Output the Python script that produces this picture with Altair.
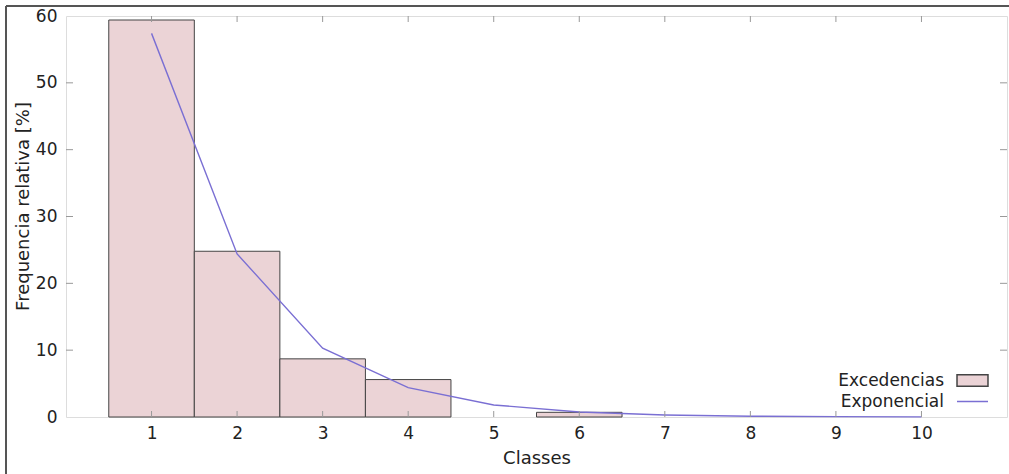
import altair as alt
import pandas as pd

classes = [1, 2, 3, 4, 5, 6, 7, 8, 9, 10]
excedencias = [59.4, 24.8, 8.7, 5.6, 0.0, 0.7, 0.0, 0.0, 0.0, 0.0]
exponencial = [57.4, 24.4, 10.3, 4.4, 1.8, 0.75, 0.3, 0.12, 0.05, 0.02]
y_ticks = [0, 10, 20, 30, 40, 50, 60]
series_names = ["Excedencias", "Exponencial"]
fill_colors = ["#ebd3d6", "transparent"]
stroke_colors = ["#444444", "#7a6fd3"]

W, H = 941, 401
FONT = "DejaVu Sans"

bars_df = pd.DataFrame({"cls": classes, "val": excedencias, "series": series_names[0]})
line_df = pd.DataFrame({"cls": classes, "val": exponencial, "series": series_names[1]})
ytick_df = pd.DataFrame({"v": y_ticks[1:-1]})

xscale = alt.Scale(domain=[0, 11], nice=False, zero=False)
yscale = alt.Scale(domain=[0, 60], nice=False)
fill_scale = alt.Scale(domain=series_names, range=fill_colors)
stroke_scale = alt.Scale(domain=series_names, range=stroke_colors)

legend = alt.Legend(
    title=None,
    orient="none",
    legendX=898,
    legendY=356,
    padding=0,
    labelFont=FONT,
    labelFontSize=17,
    labelColor="#222",
    labelAlign="right",
    labelOffset={"expr": "-37"},
    symbolSize=240,
    rowPadding=2,
    symbolType={"expr": "datum.value === 'Excedencias' ? 'M-2,-0.75H2V0.75H-2Z' : 'M-2,0H2'"},
    symbolStrokeWidth=1.5,
    symbolOpacity=1,
)

xaxis = alt.Axis(
    values=classes, format="d", title="Classes", grid=False, domain=False, ticks=False,
    labelFont=FONT, labelFontSize=17, labelColor="#222", labelPadding=8,
    titleFont=FONT, titleFontSize=18, titleFontWeight="normal", titleColor="#222", titlePadding=8,
)
yaxis = alt.Axis(
    values=y_ticks, title="Frequencia relativa [%]", grid=False, domain=False, ticks=False,
    labelFont=FONT, labelFontSize=17, labelColor="#222", labelPadding=9,
    titleFont=FONT, titleFontSize=18, titleFontWeight="normal", titleColor="#222", titlePadding=3,
    titleY=190,
)

bars = alt.Chart(bars_df).transform_filter(
    "datum.val > 0"
).transform_calculate(
    x0="datum.cls - 0.5", x1="datum.cls + 0.5"
).mark_rect(strokeWidth=1).encode(
    x=alt.X("x0:Q", scale=xscale, axis=xaxis),
    x2="x1:Q",
    y=alt.Y("val:Q", scale=yscale, axis=yaxis),
    y2=alt.datum(0),
    fill=alt.Fill("series:N", scale=fill_scale, legend=legend),
    stroke=alt.Stroke("series:N", scale=stroke_scale, legend=legend),
)

line = alt.Chart(line_df).mark_line(strokeWidth=1.4).encode(
    x=alt.X("cls:Q", scale=xscale),
    y=alt.Y("val:Q", scale=yscale),
    stroke=alt.Stroke("series:N", scale=stroke_scale, legend=legend),
)

tick_color = "#999"
xt_bottom = alt.Chart(bars_df).mark_rule(color=tick_color).encode(
    x=alt.X("cls:Q", scale=xscale), y=alt.value(H), y2=alt.value(H - 6))
xt_top = alt.Chart(bars_df).mark_rule(color=tick_color).encode(
    x=alt.X("cls:Q", scale=xscale), y=alt.value(0), y2=alt.value(6))
yt_left = alt.Chart(ytick_df).mark_rule(color=tick_color).encode(
    y=alt.Y("v:Q", scale=yscale), x=alt.value(0), x2=alt.value(7))
yt_right = alt.Chart(ytick_df).mark_rule(color=tick_color).encode(
    y=alt.Y("v:Q", scale=yscale), x=alt.value(W), x2=alt.value(W - 7))

frame_top = alt.Chart(bars_df.head(1)).mark_rule(color="#555", strokeWidth=2).encode(
    x=alt.value(-60), x2=alt.value(W + 10), y=alt.value(-10))
frame_left = alt.Chart(bars_df.head(1)).mark_rule(color="#555", strokeWidth=2).encode(
    x=alt.value(-60), y=alt.value(-10), y2=alt.value(H + 70))

chart = alt.layer(
    bars, line, xt_bottom, xt_top, yt_left, yt_right, frame_top, frame_left
).properties(
    width=W, height=H,
    autosize=alt.AutoSizeParams(type="none"),
    padding={"left": 66, "top": 16, "right": 2, "bottom": 57},
).configure_view(
    stroke="#111", strokeWidth=1.5
).configure(background="white")

chart.save("out.html", embed_options={"renderer": "svg", "actions": False})
